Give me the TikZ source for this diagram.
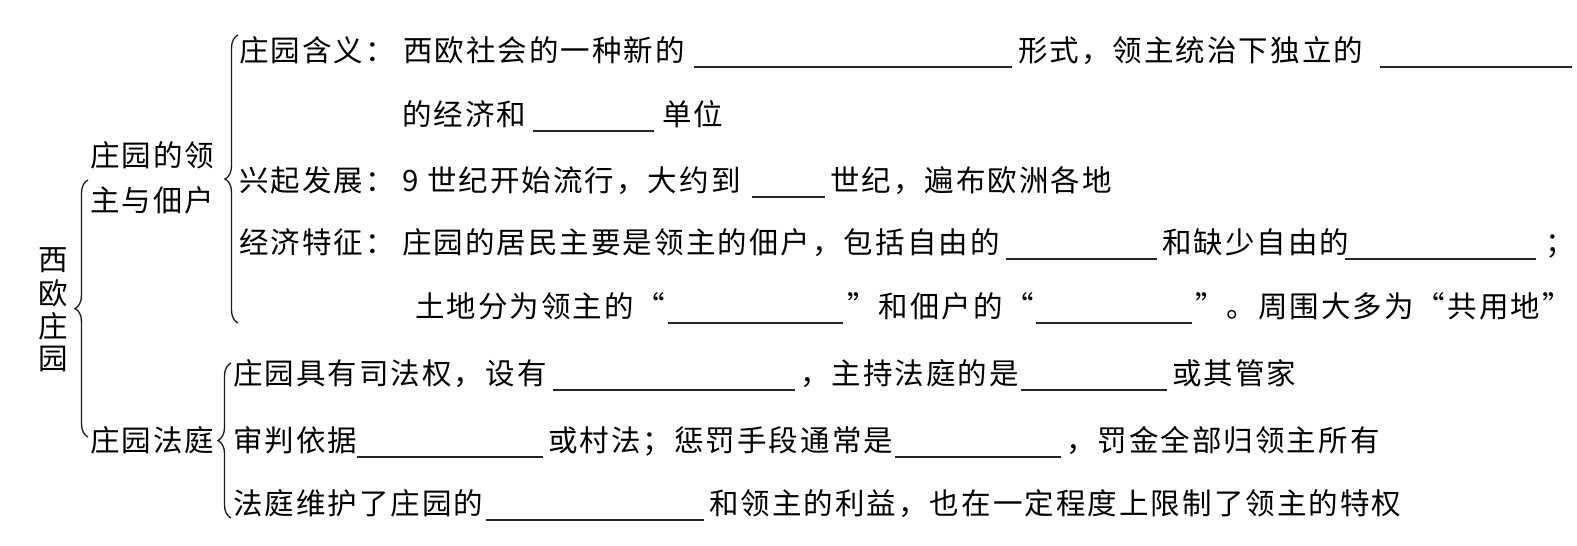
\documentclass[tikz,border=0pt]{standalone}
\usepackage{fontspec}
\newfontfamily\cjk[LetterSpace=7]{Noto Sans CJK SC}
\usetikzlibrary{decorations.pathreplacing}
\newcommand\T[4]{\node[txt] (#1) at (#2,{#3+11}) {#4};}
\newcommand\B[4]{\coordinate (#1a) at (#2,{#4+17}); \coordinate (#1b) at (#3,{#4+17}); \draw[blankline] (#1a) -- (#1b);}
\begin{document}
\begin{tikzpicture}[x=1pt,y=-1pt,
  txt/.style={anchor=base west, inner sep=0pt, outer sep=0pt, font=\cjk\fontsize{29.5}{30}\selectfont, text=black},
  blankline/.style={line width=1.2pt, draw=black!85},
  brc/.style={decorate, decoration={brace, amplitude=13pt}, line width=1.3pt, draw=black!90}
]
\useasboundingbox[fill=white] (0,0) rectangle (1577,546);

% root (vertical)
\node[txt, anchor=center] (r1) at (53,260) {西};
\node[txt, anchor=center] (r2) at (53,293) {欧};
\node[txt, anchor=center] (r3) at (53,326) {庄};
\node[txt, anchor=center] (r4) at (53,359) {园};

% big brace
\coordinate (bb1) at (88,437); \coordinate (bb2) at (88,180);
\draw[brc] (bb1) -- (bb2);

% branch labels
\T{la}{90}{155}{庄园的领}
\T{lb}{90}{200}{主与佃户}
\T{lc}{90}{440}{庄园法庭}

% brace 2
\coordinate (b2a) at (238,323); \coordinate (b2b) at (238,35);
\draw[brc] (b2a) -- (b2b);
% brace 3
\coordinate (b3a) at (231,518); \coordinate (b3b) at (231,363);
\draw[brc] (b3a) -- (b3b);

% row 1
\T{r1a}{239}{50}{庄园含义：}
\T{r1b}{403}{50}{西欧社会的一种新的}
\B{u11}{694}{1012}{50}
\T{r1c}{1018}{50}{形式，领主统治下独立的}
\B{u12}{1380}{1572}{50}
% row 2
\T{r2a}{402}{114}{的经济和}
\B{u21}{533}{654}{114}
\T{r2b}{662}{114}{单位}
% row 3
\T{r3a}{239}{180}{兴起发展：}
\T{r3b}{402}{180}{9 世纪开始流行，大约到}
\B{u31}{752}{825}{180}
\T{r3c}{830}{180}{世纪，遍布欧洲各地}
% row 4
\T{r4a}{239}{242}{经济特征：}
\T{r4b}{402}{242}{庄园的居民主要是领主的佃户，包括自由的}
\B{u41}{1006}{1157}{242}
\T{r4c}{1162}{242}{和缺少自由的}
\B{u42}{1345}{1536}{242}
\T{r4d}{1545}{242}{；}
% row 5
\T{r5a}{415}{306}{土地分为领主的“}
\B{u51}{668}{843}{306}
\T{r5b}{847}{306}{”和佃户的“}
\B{u52}{1036}{1192}{306}
\T{r5c}{1195}{306}{”。周围大多为“共用地”}
% row 6
\T{r6a}{233}{373}{庄园具有司法权，设有}
\B{u61}{553}{795}{373}
\T{r6b}{800}{373}{，主持法庭的是}
\B{u62}{1021}{1167}{373}
\T{r6c}{1172}{373}{或其管家}
% row 7
\T{r7a}{233}{440}{审判依据}
\B{u71}{357}{543}{440}
\T{r7b}{548}{440}{或村法；惩罚手段通常是}
\B{u72}{895}{1061}{440}
\T{r7c}{1066}{440}{，罚金全部归领主所有}
% row 8
\T{r8a}{233}{503}{法庭维护了庄园的}
\B{u81}{486}{704}{503}
\T{r8b}{709}{503}{和领主的利益，也在一定程度上限制了领主的特权}
\end{tikzpicture}
\end{document}
